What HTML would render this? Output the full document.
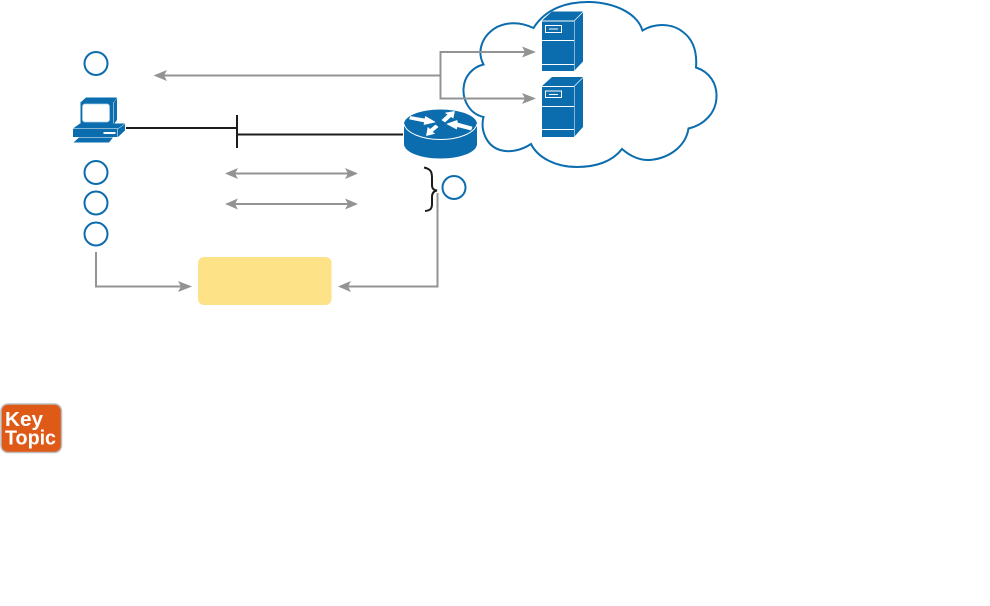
<!DOCTYPE html>
<html>
<head>
<meta charset="utf-8">
<style>
html,body{margin:0;padding:0;background:#fff;width:990px;height:606px;overflow:hidden}
svg{display:block}
</style>
</head>
<body>
<svg width="990" height="606" viewBox="0 0 990 606" xmlns="http://www.w3.org/2000/svg">
<!-- cloud -->
<path d="M533.500 28 C546 8 568 1.500 590 2 C615 3 637 13 642.500 30.500 C655 23 672 23 683 32 C695 41 697 55 696 67.500 C710 72 717 84 716.500 97 C716 113 704 125 688.500 128.500 C686 145 671 158 650 160 C640 160.500 630 156 622 149 C612 162 595 167 577 167 C556 167 538 158 531 144 C522 150 510 153 500 150 C487 146 480 131 483.500 117 C470 114 463 101 463.500 89 C464 76 473 67 483.500 64.500 C476 50 483 35 497 27 C510 21 523 23 533.500 28 Z" fill="#fff" stroke="#0b6cae" stroke-width="2"/>

<!-- grey connectors -->
<g fill="none" stroke="#939393" stroke-width="2">
<path d="M160 75.500H440.500"/>
<path d="M528 52H440.500V98.500H528"/>
<path d="M233 173.500H350"/>
<path d="M233 204H350"/>
<path d="M96 252V286.500H183"/>
<path d="M437.500 193V286.500H346"/>
</g>
<g fill="#939393">
<path d="M153.500 75.500L167 70L164 75.500L167 81Z"/>
<path d="M536 52L522 46.500L525 52L522 57.500Z"/>
<path d="M536 98.500L522 93L525 98.500L522 104Z"/>
<path d="M225 173.500L238 168L235 173.500L238 179Z"/>
<path d="M358 173.500L345 168L348 173.500L345 179Z"/>
<path d="M225 204L238 198.500L235 204L238 209.500Z"/>
<path d="M358 204L345 198.500L348 204L345 209.500Z"/>
<path d="M192 286.500L178 281L181 286.500L178 292Z"/>
<path d="M338 286.500L351 281L348 286.500L351 292Z"/>
</g>

<!-- black lines -->
<g fill="none" stroke="#1c1c1c" stroke-width="2">
<path d="M126 128H237"/>
<path d="M237 115V148"/>
<path d="M237 134.500H403"/>
<path d="M424 167.500C431 169 432 172 432 178V185C432 189 434 190 437 190.500C434 191 432 193 432 197V204C432 209 430 210.500 425 211"/>
</g>

<!-- numbered circles -->
<g fill="#fff" stroke="#0b6cae" stroke-width="2">
<circle cx="96" cy="63.500" r="11.500"/>
<circle cx="96" cy="172.500" r="11.500"/>
<circle cx="96" cy="203" r="11.500"/>
<circle cx="96" cy="234" r="11.500"/>
<circle cx="454" cy="187.500" r="11.500"/>
</g>

<!-- yellow box -->
<rect x="198" y="257" width="133.500" height="48" rx="6" fill="#fde288"/>

<!-- PC -->
<g>
<path d="M81 102L86 97.500H117L114 102Z" fill="#0b6cae"/>
<path d="M114 102.500L117 98V120L114 124Z" fill="#0b6cae"/>
<rect x="80.500" y="102" width="33" height="23" fill="#0b6cae"/>
<rect x="82.500" y="104" width="27" height="18" rx="2.500" fill="#fff" stroke="#a9d0e6" stroke-width="0.700"/>
<path d="M73 128.500L80 123.500H125L118 128.500Z" fill="#0b6cae"/>
<rect x="73" y="129" width="44.500" height="8" fill="#0b6cae"/>
<path d="M118 129L125 124V130.500L118 137Z" fill="#0b6cae"/>
<rect x="103.500" y="132" width="12" height="2" fill="#fff"/>
<path d="M73.500 142.500L79 137.500H113L109 142.500Z" fill="#0b6cae"/>
</g>

<!-- router -->
<g>
<path d="M404 124V144C404 152 420 158.500 440.500 158.500C461 158.500 477 152 477 144V124Z" fill="#0b6cae"/>
<ellipse cx="440.500" cy="124" rx="36.500" ry="14.500" fill="#0b6cae"/>
<path d="M404 124C406 133 422 139.500 440.500 139.500C459 139.500 475 133 477 124" fill="none" stroke="#fff" stroke-width="1"/>
<g fill="#fff" stroke="#fff" stroke-width="0.700" stroke-linejoin="round">
<path d="M409.500 119L410.500 116.500L425 119L425.500 116.500L435 122L424 124.500L424.500 122Z"/>
<path d="M442 120L448 114.500L445.500 113L454.500 111.500L453 118L451 116.500L445 122Z"/>
<path d="M438 127L432 132L434.500 133.500L426.500 135.500L428 127.500L430 129.500L435.500 125Z"/>
<path d="M472 127L471 130L457 126.500L456.500 129L447 124L457 120.500L457.500 123Z"/>
</g>
</g>

<!-- servers -->
<g>
<path d="M542 20.500L552 11.500H583L574 20.500Z" fill="#0b6cae"/>
<path d="M574.500 21L583 12.500V61.500L574.500 70.500Z" fill="#0b6cae"/>
<rect x="542" y="21.500" width="32" height="49.500" fill="#0b6cae"/>
<rect x="542" y="40" width="32" height="1" fill="#fff"/>
<rect x="542" y="64" width="32" height="1" fill="#fff"/>
<rect x="545.500" y="25.500" width="16" height="7" fill="none" stroke="#fff" stroke-width="1"/>
<rect x="549" y="28.500" width="9" height="1" fill="#fff"/>
</g>
<g>
<path d="M542 86L552 77H583L574 86Z" fill="#0b6cae"/>
<path d="M574.500 86.500L583 78V127L574.500 136.500Z" fill="#0b6cae"/>
<rect x="542" y="87" width="32" height="50" fill="#0b6cae"/>
<rect x="542" y="106" width="32" height="1" fill="#fff"/>
<rect x="542" y="129" width="32" height="1" fill="#fff"/>
<rect x="545.500" y="91" width="16" height="6.500" fill="none" stroke="#fff" stroke-width="1"/>
<rect x="549" y="94" width="9" height="1" fill="#fff"/>
</g>

<!-- key topic -->
<rect x="1" y="404" width="60.500" height="48.500" rx="7" fill="#e05a17" stroke="#bcbcbc" stroke-width="1.500"/>
<text x="5" y="426" font-family="'Liberation Sans',sans-serif" font-weight="700" font-size="20" textLength="38" lengthAdjust="spacingAndGlyphs" fill="#fff">Key</text>
<text x="5" y="444.500" font-family="'Liberation Sans',sans-serif" font-weight="700" font-size="20" textLength="51" lengthAdjust="spacingAndGlyphs" fill="#fff">Topic</text>
</svg>
</body>
</html>
